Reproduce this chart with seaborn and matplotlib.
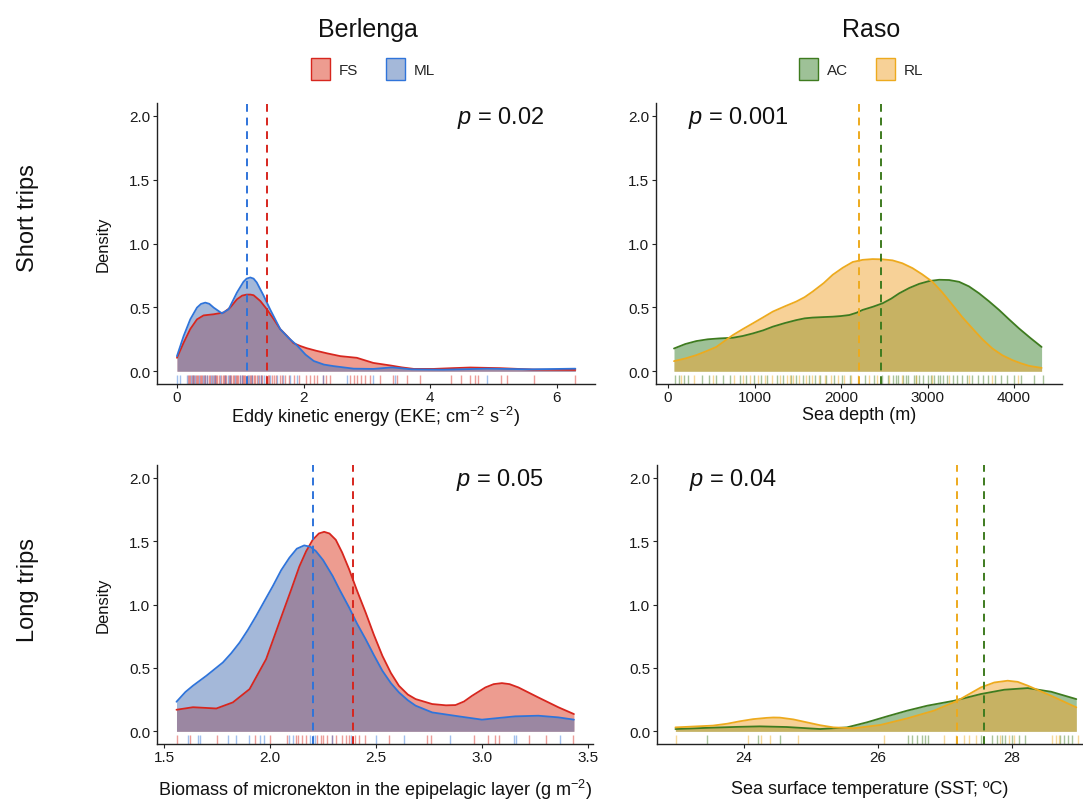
import numpy as np
import pandas as pd
import matplotlib
matplotlib.use("Agg")
import matplotlib.pyplot as plt
from matplotlib.patches import Patch
import seaborn as sns

sns.set_theme(style="ticks")
plt.rcParams['font.family'] = ['Liberation Sans', 'DejaVu Sans']
plt.rcParams['mathtext.fontset'] = 'custom'
plt.rcParams['mathtext.rm'] = 'Liberation Sans'
plt.rcParams['mathtext.it'] = 'Liberation Sans:italic'
plt.rcParams['mathtext.bf'] = 'Liberation Sans:bold'

# ---------------- data ----------------
# Berlenga, short trips: EKE
eke_x_fs = [0.0, 0.105, 0.21, 0.316, 0.42, 0.58, 0.74, 0.84, 0.947, 1.03, 1.1, 1.16, 1.21, 1.316, 1.42, 1.53, 1.63,
            1.74, 1.84, 1.95, 2.05, 2.2, 2.37, 2.58, 2.84, 2.97, 3.1, 3.37, 3.55, 3.74, 4.05, 4.35, 4.63, 5.1,
            5.63, 6.29]
eke_y_fs = [0.105, 0.223, 0.33, 0.406, 0.437, 0.446, 0.46, 0.498, 0.563, 0.592, 0.60, 0.60, 0.595, 0.55, 0.485,
            0.406, 0.33, 0.275, 0.22, 0.197, 0.18, 0.16, 0.14, 0.118, 0.105, 0.085, 0.065, 0.045, 0.03, 0.018,
            0.018, 0.024, 0.029, 0.024, 0.013, 0.01]
eke_x_ml = [0.0, 0.105, 0.21, 0.316, 0.38, 0.447, 0.51, 0.58, 0.71, 0.816, 0.947, 1.05, 1.1, 1.158, 1.21, 1.26,
            1.37, 1.47, 1.63, 1.76, 1.9, 2.03, 2.16, 2.32, 2.47, 2.79, 3.1, 3.4, 3.7, 4.2, 4.9, 5.6, 6.29]
eke_y_ml = [0.118, 0.275, 0.406, 0.498, 0.527, 0.537, 0.528, 0.498, 0.453, 0.485, 0.616, 0.70, 0.725, 0.734,
            0.725, 0.695, 0.59, 0.485, 0.33, 0.262, 0.2, 0.13, 0.08, 0.052, 0.04, 0.02, 0.018, 0.03, 0.015,
            0.012, 0.02, 0.015, 0.02]
eke_rug_fs = [0.17, 0.19, 0.21, 0.24, 0.26, 0.27, 0.3, 0.32, 0.33, 0.36, 0.38, 0.4, 0.43, 0.45, 0.48, 0.5, 0.52,
              0.55, 0.58, 0.6, 0.62, 0.64, 0.66, 0.7, 0.72, 0.74, 0.76, 0.78, 0.82, 0.84, 0.86, 0.88, 0.9, 0.93,
              0.95, 0.97, 1.0, 1.02, 1.04, 1.06, 1.08, 1.12, 1.15, 1.17, 1.19, 1.22, 1.24, 1.26, 1.3, 1.33,
              1.35, 1.4, 1.43, 1.45, 1.5, 1.53, 1.56, 1.62, 1.66, 1.7, 1.77, 1.85, 1.93, 2.04, 2.1, 2.16, 2.21,
              2.31, 2.36, 2.42, 2.73, 2.79, 2.84, 2.91, 2.97, 3.05, 3.21, 3.41, 3.48, 3.63, 3.83, 4.32, 4.48,
              4.63, 4.71, 4.76, 5.11, 5.21, 5.63, 6.29]
eke_rug_ml = [0.0, 0.05, 0.16, 0.22, 0.25, 0.28, 0.35, 0.41, 0.44, 0.47, 0.53, 0.57, 0.6, 0.68, 0.76, 0.8, 0.84,
              0.92, 0.99, 1.02, 1.1, 1.13, 1.18, 1.28, 1.32, 1.38, 1.47, 1.58, 1.68, 1.78, 1.9, 2.3, 2.68,
              3.1, 3.45, 4.89]
eke_med = {"FS": 1.42, "ML": 1.105}

# Raso, short trips: depth
dep_x_ac = [69, 200, 327, 460, 596, 750, 865, 981, 1100, 1212, 1350, 1481, 1580, 1673, 1800, 1904, 2000, 2096,
            2180, 2250, 2370, 2481, 2580, 2673, 2790, 2904, 3020, 3135, 3250, 3365, 3480, 3596, 3710, 3827,
            3940, 4058, 4190, 4319]
dep_y_ac = [0.178, 0.213, 0.236, 0.25, 0.257, 0.262, 0.276, 0.296, 0.32, 0.349, 0.377, 0.40, 0.414, 0.42, 0.424,
            0.427, 0.432, 0.44, 0.458, 0.48, 0.505, 0.532, 0.568, 0.61, 0.652, 0.684, 0.706, 0.716, 0.714, 0.70,
            0.664, 0.61, 0.548, 0.48, 0.408, 0.335, 0.26, 0.19]
dep_x_rl = [69, 200, 327, 440, 558, 650, 750, 865, 981, 1100, 1212, 1350, 1481, 1580, 1673, 1800, 1904, 2020,
            2135, 2250, 2365, 2480, 2596, 2710, 2827, 2940, 3058, 3170, 3288, 3400, 3519, 3635, 3750, 3865, 3981,
            4080, 4173, 4319]
dep_y_rl = [0.079, 0.1, 0.126, 0.156, 0.19, 0.235, 0.283, 0.33, 0.375, 0.422, 0.467, 0.508, 0.545, 0.58, 0.624,
            0.69, 0.755, 0.81, 0.855, 0.872, 0.878, 0.876, 0.868, 0.845, 0.807, 0.758, 0.70, 0.618, 0.52, 0.425,
            0.335, 0.25, 0.178, 0.125, 0.087, 0.062, 0.042, 0.026]
dep_rug_ac = [80, 130, 180, 230, 390, 470, 560, 640, 720, 830, 900, 990, 1080, 1150, 1260, 1330, 1420, 1480, 1560,
              1630, 1700, 1760, 1830, 1920, 2010, 2100, 2280, 2380, 2470, 2540, 2600, 2630, 2660, 2720, 2750,
              2780, 2840, 2870, 2900, 2950, 3010, 3040, 3070, 3120, 3150, 3180, 3230, 3290, 3340, 3400, 3460,
              3520, 3580, 3640, 3700, 3780, 3850, 3920, 4000, 4080, 4230, 4340]
dep_rug_rl = [150, 300, 520, 760, 870, 950, 1040, 1120, 1200, 1290, 1370, 1410, 1450, 1520, 1600, 1670, 1740, 1810,
              1880, 1960, 2040, 2120, 2200, 2320, 2420, 2560, 2700, 2870, 3050, 3250, 3480, 3750, 4050]
dep_med = {"AC": 2462, "RL": 2204}

# Berlenga, long trips: micronekton biomass
bio_x_fs = [1.558, 1.636, 1.746, 1.824, 1.903, 1.981, 2.02, 2.06, 2.1, 2.138, 2.17, 2.201, 2.23, 2.255, 2.28,
            2.31, 2.34, 2.373, 2.41, 2.451, 2.49, 2.53, 2.57, 2.608, 2.65, 2.687, 2.765, 2.83, 2.875, 2.915, 2.953,
            3.016, 3.055, 3.094, 3.13, 3.172, 3.266, 3.36, 3.434]
bio_y_fs = [0.17, 0.19, 0.18, 0.228, 0.333, 0.569, 0.75, 0.936, 1.12, 1.30, 1.42, 1.51, 1.56, 1.573, 1.56, 1.51,
            1.41, 1.277, 1.11, 0.936, 0.76, 0.595, 0.46, 0.359, 0.29, 0.254, 0.215, 0.205, 0.207, 0.235, 0.28,
            0.346, 0.372, 0.38, 0.372, 0.346, 0.267, 0.19, 0.136]
bio_x_ml = [1.558, 1.6, 1.636, 1.699, 1.777, 1.816, 1.856, 1.895, 1.934, 1.974, 2.013, 2.052, 2.091, 2.126, 2.161,
            2.19, 2.216, 2.25, 2.295, 2.33, 2.373, 2.41, 2.451, 2.49, 2.53, 2.57, 2.608, 2.65, 2.687, 2.765, 2.89,
            3.0, 3.157, 3.266, 3.36, 3.434]
bio_y_ml = [0.233, 0.31, 0.36, 0.438, 0.543, 0.615, 0.70, 0.80, 0.91, 1.03, 1.146, 1.27, 1.369, 1.44, 1.466,
            1.455, 1.421, 1.35, 1.225, 1.11, 0.976, 0.85, 0.726, 0.60, 0.477, 0.38, 0.307, 0.245, 0.202, 0.149,
            0.118, 0.092, 0.118, 0.123, 0.11, 0.092]
bio_rug_fs = [1.56, 1.62, 1.75, 1.93, 2.0, 2.08, 2.12, 2.13, 2.15, 2.17, 2.22, 2.24, 2.25, 2.27, 2.29, 2.31, 2.34,
              2.36, 2.37, 2.4, 2.42, 2.45, 2.56, 2.74, 2.76, 2.96, 3.03, 3.06, 3.08, 3.22, 3.30, 3.43]
bio_rug_ml = [1.61, 1.66, 1.67, 1.80, 1.84, 1.90, 1.95, 1.97, 2.09, 2.11, 2.19, 2.2, 2.21, 2.29, 2.38, 2.5, 2.63,
              2.85, 3.15, 3.16, 3.37]
bio_med = {"FS": 2.392, "ML": 2.204}

# Raso, long trips: SST
sst_x_ac = [22.975, 23.535, 23.9, 24.235, 24.635, 25.135, 25.535, 25.835, 26.135, 26.435, 26.735, 27.135, 27.535,
            27.885, 28.235, 28.585, 28.96]
sst_y_ac = [0.018, 0.029, 0.035, 0.039, 0.034, 0.018, 0.031, 0.071, 0.118, 0.163, 0.202, 0.241, 0.294, 0.328,
            0.341, 0.312, 0.254]
sst_x_rl = [22.975, 23.535, 23.75, 23.935, 24.135, 24.335, 24.435, 24.535, 24.735, 24.935, 25.135, 25.335, 25.635,
            26.035, 26.435, 26.835, 27.185, 27.535, 27.735, 27.935, 28.085, 28.235, 28.585, 28.96]
sst_y_rl = [0.031, 0.045, 0.06, 0.079, 0.096, 0.106, 0.109, 0.108, 0.094, 0.071, 0.048, 0.031, 0.024, 0.05,
            0.102, 0.163, 0.241, 0.346, 0.385, 0.399, 0.39, 0.36, 0.28, 0.189]
sst_rug_ac = [23.44, 24.21, 24.54, 26.44, 26.5, 26.58, 26.65, 26.7, 26.74, 27.54, 27.7, 27.78, 27.85, 27.9, 28.0,
              28.1, 28.2, 28.72, 28.78, 28.84, 28.9]
sst_rug_rl = [22.98, 24.06, 24.26, 24.39, 24.81, 26.09, 26.99, 27.16, 27.29, 27.36, 27.46, 27.82, 27.95, 28.03,
              28.6, 28.65, 28.7, 28.99]
sst_med = {"AC": 27.575, "RL": 27.185}

# ---------------- styles ----------------
line_col = {"FS": "#D7261E", "ML": "#2F74DA", "AC": "#3E7B1F", "RL": "#EDAA1E"}
fill_col = {"FS": "#DC3A22", "ML": "#4A73B5", "AC": "#3F8530", "RL": "#F0A530"}

W, H = 1083, 803
fig = plt.figure(figsize=(W / 100, H / 100), dpi=100)


def px_axes(left, right, top, bottom):
    return fig.add_axes([left / W, 1 - bottom / H, (right - left) / W, (bottom - top) / H])


panels = [
    dict(box=(157, 595, 104, 385), xlim=(-0.315, 6.6), xticks=[0, 2, 4, 6], xfmt="{:.0f}",
         groups=[("FS", eke_x_fs, eke_y_fs, eke_rug_fs), ("ML", eke_x_ml, eke_y_ml, eke_rug_ml)], med=eke_med,
         xlabel="Eddy kinetic energy (EKE; cm$^{-2}$ s$^{-2}$)", xlab_y=417, ylabel=True, p="0.02", px=0.685),
    dict(box=(656, 1062, 104, 385), xlim=(-139, 4555), xticks=[0, 1000, 2000, 3000, 4000], xfmt="{:.0f}",
         groups=[("AC", dep_x_ac, dep_y_ac, dep_rug_ac), ("RL", dep_x_rl, dep_y_rl, dep_rug_rl)], med=dep_med,
         xlabel="Sea depth (m)", xlab_y=416, ylabel=False, p="0.001", px=0.08),
    dict(box=(157, 593, 466, 745), xlim=(1.466, 3.524), xticks=[1.5, 2.0, 2.5, 3.0, 3.5], xfmt="{:.1f}",
         groups=[("FS", bio_x_fs, bio_y_fs, bio_rug_fs), ("ML", bio_x_ml, bio_y_ml, bio_rug_ml)], med=bio_med,
         xlabel="Biomass of micronekton in the epipelagic layer (g m$^{-2}$)", xlab_y=790, ylabel=True, p="0.05",
         px=0.685),
    dict(box=(657, 1083, 466, 745), xlim=(22.70, 29.06), xticks=[24, 26, 28], xfmt="{:.0f}",
         groups=[("AC", sst_x_ac, sst_y_ac, sst_rug_ac), ("RL", sst_x_rl, sst_y_rl, sst_rug_rl)], med=sst_med,
         xlabel="Sea surface temperature (SST; ºC)", xlab_y=790, ylabel=False, p="0.04", px=0.075),
]

for pn in panels:
    ax = px_axes(*pn["box"])
    left, right, top, bottom = pn["box"]
    for name, xs, ys, rug in pn["groups"]:
        df = pd.DataFrame({"x": xs, "y": ys})
        ax.fill_between(df["x"], 0, df["y"], color=fill_col[name], alpha=0.5, linewidth=0)
        sns.lineplot(data=df, x="x", y="y", ax=ax, color=line_col[name], linewidth=1.3, sort=False)
        sns.rugplot(x=rug, ax=ax, height=0.032, color=line_col[name], alpha=0.45, linewidth=1.0)
    for name, _, _, _ in pn["groups"]:
        ax.axvline(pn["med"][name], color=line_col[name], linestyle=(0, (4, 3)), linewidth=1.4)
    ax.set_xlim(*pn["xlim"])
    ax.set_ylim(-0.1, 2.1)
    ax.set_xticks(pn["xticks"])
    ax.set_xticklabels([pn["xfmt"].format(v) for v in pn["xticks"]])
    ax.set_yticks([0, 0.5, 1.0, 1.5, 2.0])
    ax.set_yticklabels(["0.0", "0.5", "1.0", "1.5", "2.0"])
    ax.tick_params(axis="both", labelsize=11, colors="#222222", length=3, width=0.8, pad=2)
    ax.tick_params(axis="x", pad=1)
    for lab in ax.get_xticklabels() + ax.get_yticklabels():
        lab.set_color("#1a1a1a")
    sns.despine(ax=ax)
    for sp in ("left", "bottom"):
        ax.spines[sp].set_linewidth(1.0)
        ax.spines[sp].set_color("#222222")
    ax.set_xlabel("")
    ax.text(0.5, -(pn["xlab_y"] - bottom) / (bottom - top), pn["xlabel"], transform=ax.transAxes,
            fontsize=13, color="#111111", ha="center", va="center")
    if pn["ylabel"]:
        ax.set_ylabel("Density", fontsize=12, labelpad=13, color="#111111")
    else:
        ax.set_ylabel("")
    ax.text(pn["px"], 0.95, "$\\it{p}$ = " + pn["p"], transform=ax.transAxes, fontsize=17,
            ha="left", va="center", color="#111111")
    ax.grid(False)

# column titles
fig.text(368 / W, 1 - 30 / H, "Berlenga", fontsize=18, ha="center", va="center", color="#111111")
fig.text(871 / W, 1 - 30 / H, "Raso", fontsize=18, ha="center", va="center", color="#111111")

# row titles
fig.text(28 / W, 1 - 218 / H, "Short trips", fontsize=17, rotation=90, ha="center", va="center", color="#111111")
fig.text(28 / W, 1 - 590 / H, "Long trips", fontsize=17, rotation=90, ha="center", va="center", color="#111111")


def make_handles(names):
    return [Patch(facecolor=matplotlib.colors.to_rgba(fill_col[n], 0.5), edgecolor=line_col[n], linewidth=1.0)
            for n in names]


for names, cx in ((["FS", "ML"], 373), (["AC", "RL"], 861)):
    fig.legend(make_handles(names), names, loc="center", bbox_to_anchor=(cx / W, 1 - 70 / H), ncol=2,
               frameon=False, fontsize=11, handlelength=1.25, handleheight=1.75, columnspacing=1.8,
               handletextpad=0.6)

fig.savefig("out.png", dpi=100, facecolor="white")
